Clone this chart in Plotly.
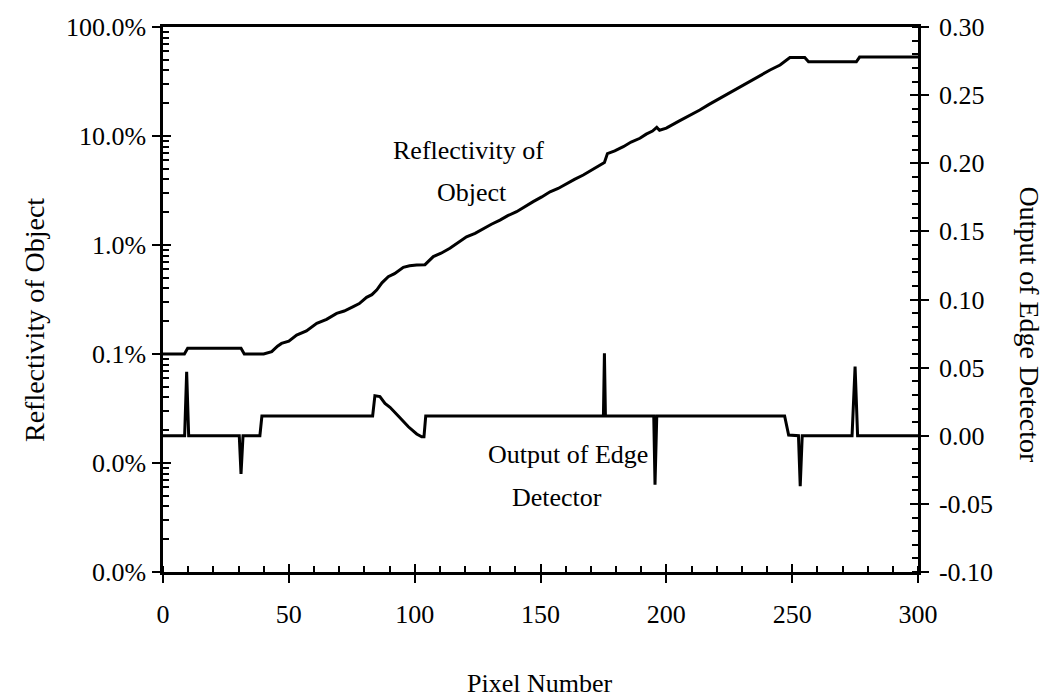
import plotly.graph_objects as go

# Reflectivity of the object (percent) against pixel number
refl_px = [0, 8.5, 9.8, 31.0, 32.3, 40.0, 43.2, 45.5, 47.1, 50, 53.1, 57, 61.1, 65, 69.0,
           72, 75.6, 78, 80.9, 83, 84.9, 87, 89.5, 92, 95.5, 98, 100.8, 104.1, 107.4,
           110.5, 114.0, 117, 120.6, 124, 127.3, 130.5, 133.9, 137, 140.5, 144, 147.1,
           150.5, 153.8, 157, 160.4, 163.5, 167.0, 170, 173.6, 175.4, 176.6, 179.5,
           182.9, 186, 189.5, 192, 194.5, 196.2, 197.3, 200, 205, 209, 213.3, 217, 221,
           225, 229.2, 233.2, 237.2, 241.2, 245.2, 249.1, 255.0, 256.5, 275.5, 276.8, 300]
refl_pct = [0.100, 0.100, 0.113, 0.113, 0.100, 0.100, 0.105, 0.118, 0.125, 0.131, 0.149,
            0.163, 0.191, 0.208, 0.236, 0.248, 0.272, 0.290, 0.331, 0.350, 0.386, 0.450,
            0.512, 0.545, 0.624, 0.645, 0.656, 0.660, 0.782, 0.84, 0.933, 1.05, 1.19,
            1.28, 1.42, 1.55, 1.69, 1.86, 2.02, 2.28, 2.50, 2.76, 3.08, 3.30, 3.68, 4.00,
            4.39, 4.85, 5.42, 5.71, 6.90, 7.30, 7.98, 8.80, 9.53, 10.4, 11.1, 12.0, 11.3,
            11.8, 13.7, 15.3, 17.3, 19.5, 22.0, 25.0, 28.3, 31.5, 35.5, 40.3, 44.8, 52.5,
            52.5, 48.0, 48.0, 53.0, 53.0]

# Edge detector output against pixel number
edge_px = [0, 8.6, 9.4, 10.2, 30.3, 31.0, 31.8, 38.5, 39.3, 83.3, 84.2, 86.2, 88.2, 90.2,
           93.5, 97.5, 100.8, 102.8, 103.7, 104.4, 175.0, 175.4, 175.8, 195.0, 195.5,
           196.2, 247.0, 248.6, 252.5, 253.2, 254.0, 273.8, 275.0, 276.0, 300]
edge_val = [0.0, 0.0, 0.047, 0.0, 0.0, -0.028, 0.0, 0.0, 0.0145, 0.0145, 0.0294, 0.0287,
            0.0238, 0.0209, 0.0145, 0.0066, 0.0013, -0.0007, -0.0007, 0.0145, 0.0145,
            0.0605, 0.0145, 0.0145, -0.036, 0.0145, 0.0145, 0.0005, 0.0, -0.037, 0.0,
            0.0, 0.0507, 0.0, 0.0]

# Axis ticks
x_ticks = [0, 50, 100, 150, 200, 250, 300]
refl_ticks = [0.001, 0.01, 0.1, 1, 10, 100]
refl_ticktext = ["0.0%", "0.0%", "0.1%", "1.0%", "10.0%", "100.0%"]
refl_minor = [m * 10 ** d for d in range(-3, 2) for m in range(2, 10)]
edge_ticks = [-0.10, -0.05, 0.0, 0.05, 0.10, 0.15, 0.20, 0.25, 0.30]
edge_ticktext = ["-0.10", "-0.05", "0.00", "0.05", "0.10", "0.15", "0.20", "0.25", "0.30"]

FONT = "Liberation Serif"
FS = 26        # tick labels and in-plot labels
FS_TITLE = 28  # axis titles
BLACK = "black"

fig = go.Figure()
fig.add_trace(go.Scatter(x=refl_px, y=refl_pct, mode="lines",
                         line=dict(color=BLACK, width=3), yaxis="y",
                         showlegend=False, hoverinfo="skip"))
fig.add_trace(go.Scatter(x=edge_px, y=edge_val, mode="lines",
                         line=dict(color=BLACK, width=3), yaxis="y2",
                         showlegend=False, hoverinfo="skip"))
# empty traces that carry the inner halves of the major ticks
fig.add_trace(go.Scatter(x=[None], y=[None], xaxis="x2", yaxis="y3",
                         showlegend=False, hoverinfo="skip"))
fig.add_trace(go.Scatter(x=[None], y=[None], xaxis="x2", yaxis="y4",
                         showlegend=False, hoverinfo="skip"))

axis_common = dict(showgrid=False, zeroline=False, color=BLACK,
                   tickfont=dict(family=FONT, size=FS, color=BLACK))

fig.update_layout(
    width=1057, height=698,
    margin=dict(l=163, r=139, t=27, b=126),
    paper_bgcolor="white", plot_bgcolor="white",
    font=dict(family=FONT, size=FS, color=BLACK),
    xaxis=dict(range=[0, 300], tickvals=x_ticks, ticks="outside", ticklen=8,
               tickwidth=2, showline=True, linewidth=2.5, linecolor=BLACK, mirror=True,
               ticklabelstandoff=9,
               minor=dict(dtick=10, tick0=0, ticks="inside", ticklen=6, tickwidth=2,
                          tickcolor=BLACK),
               **axis_common),
    xaxis2=dict(range=[0, 300], overlaying="x", tickvals=x_ticks, ticks="inside",
                ticklen=8, tickwidth=2, showticklabels=False, showline=False,
                showgrid=False, zeroline=False, tickcolor=BLACK),
    yaxis=dict(type="log", range=[-3, 2], tickvals=refl_ticks, ticktext=refl_ticktext,
               ticks="outside", ticklen=8, tickwidth=2, showline=True, linewidth=2.5,
               linecolor=BLACK, ticklabelstandoff=1,
               minor=dict(tickvals=refl_minor, ticks="inside", ticklen=6, tickwidth=2,
                          tickcolor=BLACK),
               **axis_common),
    yaxis2=dict(range=[-0.10, 0.30], overlaying="y", side="right",
                tickvals=edge_ticks, ticktext=edge_ticktext,
                ticks="outside", ticklen=8, tickwidth=2, showline=True, linewidth=2.5,
                linecolor=BLACK, ticklabelstandoff=5,
                minor=dict(dtick=0.01, tick0=0, ticks="inside", ticklen=6, tickwidth=2,
                           tickcolor=BLACK),
                **axis_common),
    yaxis3=dict(type="log", range=[-3, 2], overlaying="y", side="left", anchor="x2",
                tickvals=refl_ticks, ticks="inside", ticklen=8, tickwidth=2,
                showticklabels=False, showline=False, showgrid=False, zeroline=False,
                tickcolor=BLACK),
    yaxis4=dict(range=[-0.10, 0.30], overlaying="y", side="right", anchor="x2",
                tickvals=edge_ticks, ticks="inside", ticklen=8, tickwidth=2,
                showticklabels=False, showline=False, showgrid=False, zeroline=False,
                tickcolor=BLACK),
)

labels = [
    ("Reflectivity of", 0.405, 0.774, 0, FS),
    ("Object", 0.409, 0.697, 0, FS),
    ("Output of Edge", 0.536, 0.2147, 0, FS),
    ("Detector", 0.522, 0.1376, 0, FS),
    ("Pixel Number", 0.4993, -0.2037, 0, FS),
    ("Reflectivity of Object", -0.1695, 0.4624, -90, FS_TITLE),
    ("Output of Edge Detector", 1.148, 0.453, 90, FS_TITLE),
]
for text, x, y, ang, size in labels:
    fig.add_annotation(text=text, x=x, y=y, xref="paper", yref="paper",
                       showarrow=False, textangle=ang, xanchor="center", yanchor="middle",
                       font=dict(family=FONT, size=size, color=BLACK))

fig.write_html("out.html")
